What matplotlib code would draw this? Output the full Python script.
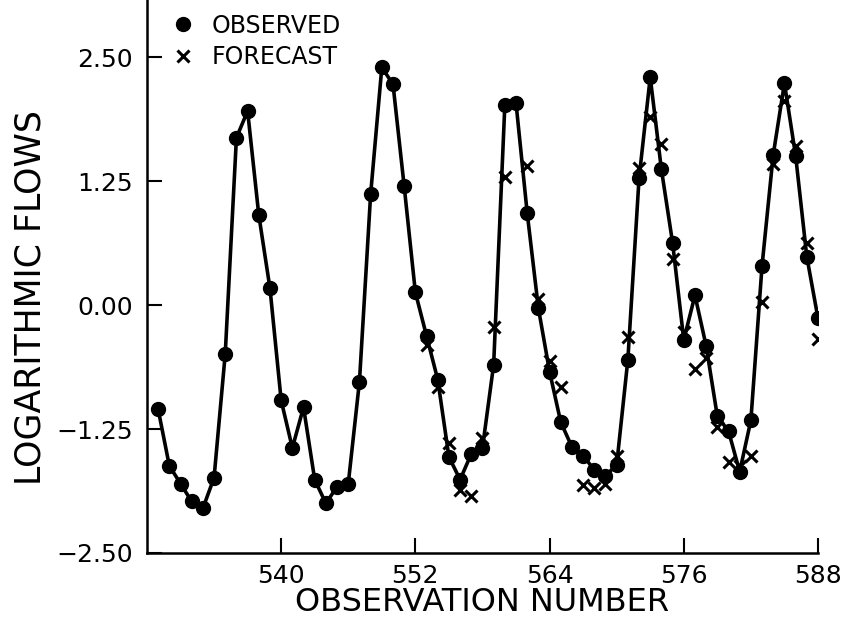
import numpy as np
import matplotlib
matplotlib.use("Agg")
import matplotlib.pyplot as plt

# observation numbers 529..588
obs_num = np.arange(529, 589)

observed = [
    -1.05, -1.62, -1.80, -1.98, -2.05, -1.74, -0.49, 1.69, 1.96, 0.91,
    0.17, -0.96, -1.44, -1.03, -1.76, -2.00, -1.83, -1.80, -0.77, 1.12,
    2.40, 2.23, 1.20, 0.13, -0.31, -0.75, -1.53, -1.76, -1.50, -1.44,
    -0.60, 2.02, 2.04, 0.93, -0.03, -0.67, -1.18, -1.43, -1.52, -1.66,
    -1.72, -1.61, -0.55, 1.28, 2.30, 1.37, 0.63, -0.35, 0.10, -0.41,
    -1.12, -1.27, -1.68, -1.16, 0.40, 1.52, 2.24, 1.51, 0.49, -0.13,
]

# forecasts exist from 553 on; nan where none is visible
nan = np.nan
forecast = [
    nan, nan, nan, nan, nan, nan, nan, nan, nan, nan,
    nan, nan, nan, nan, nan, nan, nan, nan, nan, nan,
    nan, nan, nan, nan, -0.40, -0.83, -1.39, -1.86, -1.92, -1.34,
    -0.22, 1.29, nan, 1.41, 0.06, -0.56, -0.83, nan, -1.81, -1.84,
    -1.80, -1.52, -0.32, 1.38, 1.90, 1.63, 0.47, -0.27, -0.64, -0.53,
    -1.23, -1.58, -1.62, -1.52, 0.03, 1.43, 2.06, 1.61, 0.63, -0.34,
]

x_ticks = [540, 552, 564, 576, 588]
y_ticks = [-2.50, -1.25, 0.00, 1.25, 2.50]

plt.rcParams['font.family'] = ['DejaVu Sans']

fig = plt.figure(figsize=(8.48, 6.24), dpi=100)
ax = fig.add_axes([0.1733, 0.1138, 0.7913, 0.8862])

ax.plot(obs_num, observed, color='black', linewidth=2.6, zorder=2)
ax.plot(obs_num, observed, linestyle='none', marker='o', markersize=10,
        color='black', label='OBSERVED', zorder=3)
ax.plot(obs_num, forecast, linestyle='none', marker='x', markersize=8,
        markeredgewidth=2.2, color='black', label='FORECAST', zorder=4)

ax.set_xlim(528, 588)
ax.set_ylim(-2.5, 3.08)
ax.set_xticks(x_ticks)
ax.set_yticks(y_ticks)
ax.set_xticklabels([str(t) for t in x_ticks])
ax.set_yticklabels([('%.2f' % t).replace('-', '\u2212') for t in y_ticks])

for side in ['top', 'right']:
    ax.spines[side].set_visible(False)
for side in ['left', 'bottom']:
    ax.spines[side].set_linewidth(1.8)

ax.tick_params(direction='in', length=11, width=1.5, labelsize=18)
ax.tick_params(axis='x', pad=8)
ax.tick_params(axis='y', pad=10)

ax.set_xlabel('OBSERVATION NUMBER', fontsize=23)
ax.set_ylabel('LOGARITHMIC FLOWS', fontsize=25)
ax.xaxis.set_label_coords(0.5, -0.062)
ax.yaxis.set_label_coords(-0.1475, 0.462)

ax.legend(loc='upper left', bbox_to_anchor=(0.012, 1.005), frameon=False,
          fontsize=17, handlelength=1.0, handletextpad=0.7, labelspacing=0.3,
          borderaxespad=0.3)

fig.savefig('out.png', dpi=100)
